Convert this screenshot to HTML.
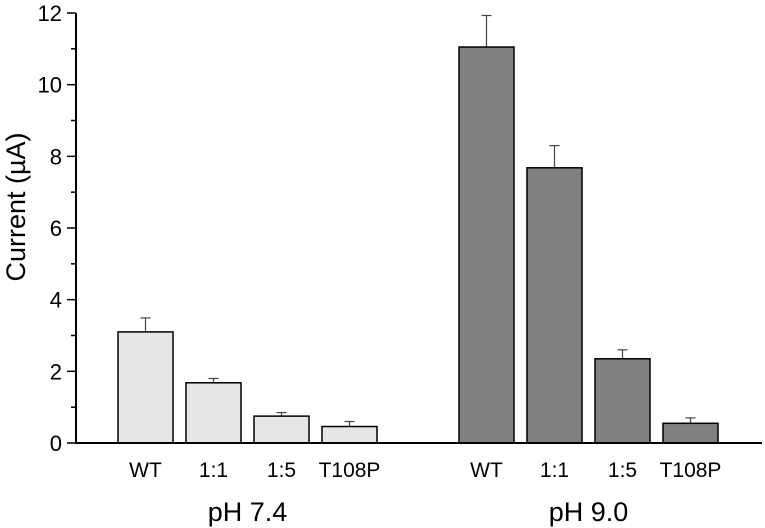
<!DOCTYPE html>
<html><head><meta charset="utf-8"><style>
body{margin:0;background:#fff}
svg{display:block;font-family:"Liberation Sans",Arial,sans-serif}
</style></head><body>
<svg id="chart" width="765" height="528" viewBox="0 0 765 528"></svg>
<script>
const categories=["WT","1:1","1:5","T108P","WT","1:1","1:5","T108P"];
const groups=["pH 7.4","pH 9.0"];
const values=[3.1,1.68,0.75,0.46,11.05,7.68,2.35,0.55];
const errors=[0.39,0.12,0.1,0.14,0.88,0.62,0.25,0.15];
const yTicks=[0,2,4,6,8,10,12];
const minorTicks=[1,3,5,7,9,11];
const barLeft=[118,186,254,322,459,527,595,663];
const NS="http://www.w3.org/2000/svg";
const svg=document.getElementById('chart');
const y0=443,y1=13,ymax=12;
const y=v=>y0-(v/ymax)*(y0-y1);
const bw=55;
function mk(t,a,p){const e=document.createElementNS(NS,t);for(const k in a)e.setAttribute(k,a[k]);(p||svg).appendChild(e);return e;}
values.forEach((v,i)=>{
  const g=i<4?0:1;
  const x=barLeft[i];
  const top=y(v+errors[i]);
  const el=mk('line',{x1:x+bw/2,x2:x+bw/2,y1:y(v),y2:top,stroke:'#444','stroke-width':1.2});
  
  
  const cap=mk('line',{x1:x+bw/2-5,x2:x+bw/2+5,y1:top,y2:top,stroke:'#444','stroke-width':1.2});
  
  
  const r=mk('rect',{x:x,y:y(v),width:bw,height:y0-y(v),fill:g?'#808080':'#e6e6e6',stroke:'#000','stroke-width':1.5});
  
  
  const t=mk('text',{x:x+bw/2,y:477,'text-anchor':'middle',style:'font-size:21px'});
  t.textContent=categories[i];
  
  
});
const ya=mk('line',{x1:76,x2:76,y1:y1,y2:y0,stroke:'#000','stroke-width':2});


const xa=mk('line',{x1:75,x2:762,y1:y0,y2:y0,stroke:'#000','stroke-width':2});


yTicks.forEach(v=>{
  const l=mk('line',{x1:67,x2:76,y1:y(v),y2:y(v),stroke:'#000','stroke-width':1.5});
  
  
  const t=mk('text',{x:62,y:y(v)+8,'text-anchor':'end',style:'font-size:22px'});
  t.textContent=v;
  
  
});
minorTicks.forEach(v=>{
  const l=mk('line',{x1:71,x2:76,y1:y(v),y2:y(v),stroke:'#000','stroke-width':1.5});
  
  
});
groups.forEach((g,i)=>{
  const cx=(barLeft[i*4]+barLeft[i*4+3]+bw)/2;
  const t=mk('text',{x:cx,y:521,'text-anchor':'middle',style:'font-size:27px'});
  t.textContent=g;
  
  
});
const yt=mk('text',{x:0,y:0,'text-anchor':'middle',style:'font-size:27px',transform:'translate(25,207) rotate(-90)'});
yt.textContent='Current (µA)';


</script>
</body></html>
